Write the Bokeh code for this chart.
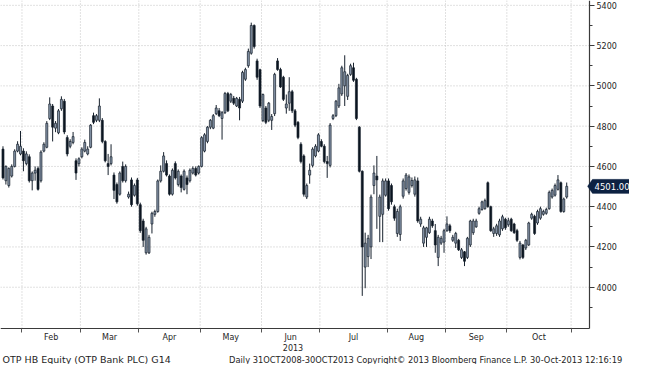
import numpy as np
from bokeh.plotting import figure
from bokeh.models import Range1d, FixedTicker, Label, PolyAnnotation, ColumnDataSource, LinearAxis
from bokeh.core.properties import value
from bokeh.embed import file_html
from bokeh.resources import INLINE

# ---------------- data ----------------
months = ["Feb", "Mar", "Apr", "May", "Jun", "Jul", "Aug", "Sep", "Oct"]
year_label = "2013"
# index of the first trading day of each month (Feb .. Nov)
month_starts = [7, 27, 47, 68, 89, 109, 132, 152, 173, 195]
price_ticks = [4000, 4200, 4400, 4600, 4800, 5000, 5200, 5400]
price_minor = [3900, 4100, 4300, 4500, 4700, 4900, 5100, 5300]
last_price = 4501.00

opens = [4686, 4529, 4505, 4552, 4600, 4676, 4662, 4676, 4614, 4648,
         4529, 4567, 4590, 4529, 4676, 4695, 4838, 4900, 4790, 4767,
         4886, 4924, 4743, 4700, 4719, 4628, 4614, 4648, 4676, 4662,
         4695, 4852, 4829, 4829, 4829, 4724, 4614, 4614, 4557, 4510,
         4462, 4600, 4529, 4448, 4533, 4457, 4533, 4410, 4329, 4171,
         4171, 4314, 4362, 4376, 4528, 4576, 4614, 4552, 4462, 4614,
         4510, 4552, 4486, 4543, 4529, 4567, 4590, 4567, 4600, 4676,
         4724, 4795, 4790, 4862, 4876, 4838, 4867, 4962, 4924, 4938,
         4900, 4933, 4924, 5033, 5100, 5162, 5300, 5124, 5080, 4828,
         4890, 4829, 4829, 4862, 5124, 5081, 5043, 4890, 4914, 4971,
         4876, 4819, 4710, 4652, 4448, 4557, 4605, 4652, 4676, 4724,
         4700, 4624, 4605, 4838, 4852, 4900, 4960, 5000, 4948, 5057,
         5090, 5033, 4795, 4576, 4100, 4152, 4200, 4505, 4552, 4352,
         4362, 4457, 4528, 4505, 4400, 4267, 4262, 4452, 4490, 4471,
         4505, 4462, 4528, 4314, 4219, 4248, 4271, 4329, 4281, 4148,
         4219, 4224, 4281, 4305, 4233, 4219, 4233, 4148, 4176, 4148,
         4210, 4271, 4300, 4367, 4386, 4390, 4519, 4400, 4267, 4267,
         4260, 4290, 4338, 4310, 4338, 4314, 4281, 4148, 4210, 4195,
         4210, 4343, 4352, 4319, 4343, 4362, 4367, 4390, 4448, 4457,
         4486, 4519, 4376, 4448]
highs = [4700, 4605, 4595, 4610, 4685, 4725, 4776, 4690, 4675, 4660,
         4575, 4600, 4600, 4680, 4720, 4825, 4943, 4910, 4825, 4885,
         4948, 4935, 4755, 4735, 4771, 4640, 4645, 4695, 4733, 4700,
         4810, 4867, 4860, 4938, 4840, 4730, 4662, 4710, 4570, 4520,
         4575, 4624, 4610, 4475, 4545, 4515, 4543, 4420, 4340, 4300,
         4260, 4375, 4385, 4535, 4605, 4671, 4630, 4560, 4590, 4625,
         4585, 4560, 4585, 4555, 4590, 4600, 4600, 4605, 4750, 4765,
         4800, 4835, 4860, 4905, 4890, 4875, 4970, 4970, 4965, 4950,
         4945, 4945, 5075, 5090, 5185, 5314, 5305, 5135, 5085, 4962,
         4900, 4920, 4860, 5065, 5138, 5090, 5050, 4957, 5043, 4980,
         4885, 4825, 4720, 4660, 4515, 4614, 4695, 4710, 4765, 4735,
         4710, 4652, 4815, 4860, 4930, 5010, 5100, 5152, 5060, 5110,
         5115, 5040, 4800, 4580, 4271, 4260, 4460, 4605, 4652, 4460,
         4540, 4540, 4540, 4515, 4410, 4390, 4410, 4540, 4567, 4560,
         4545, 4550, 4545, 4350, 4305, 4300, 4350, 4340, 4314, 4260,
         4255, 4290, 4352, 4315, 4260, 4275, 4240, 4195, 4180, 4250,
         4335, 4340, 4340, 4400, 4430, 4440, 4525, 4405, 4300, 4315,
         4340, 4360, 4345, 4345, 4345, 4320, 4290, 4230, 4215, 4240,
         4325, 4370, 4360, 4385, 4400, 4385, 4395, 4480, 4490, 4515,
         4557, 4525, 4445, 4520]
lows = [4535, 4510, 4495, 4545, 4595, 4670, 4655, 4576, 4605, 4520,
        4481, 4529, 4480, 4520, 4670, 4690, 4830, 4724, 4770, 4760,
        4876, 4760, 4650, 4690, 4710, 4533, 4600, 4640, 4670, 4655,
        4690, 4810, 4820, 4820, 4715, 4620, 4557, 4605, 4438, 4415,
        4455, 4520, 4520, 4440, 4400, 4450, 4405, 4270, 4200, 4162,
        4165, 4267, 4350, 4370, 4520, 4570, 4550, 4455, 4455, 4535,
        4500, 4471, 4480, 4462, 4520, 4560, 4550, 4560, 4595, 4670,
        4715, 4785, 4785, 4855, 4845, 4733, 4860, 4870, 4915, 4905,
        4895, 4829, 4915, 5025, 5090, 5155, 5185, 5030, 4890, 4820,
        4810, 4820, 4781, 4850, 5075, 4990, 4925, 4862, 4876, 4865,
        4795, 4735, 4615, 4450, 4438, 4514, 4595, 4645, 4670, 4695,
        4615, 4543, 4595, 4830, 4845, 4890, 4950, 4900, 4930, 5050,
        5020, 4830, 4570, 3957, 3995, 4100, 4140, 4462, 4290, 4224,
        4224, 4450, 4380, 4410, 4330, 4250, 4230, 4440, 4480, 4460,
        4495, 4450, 4320, 4300, 4200, 4200, 4265, 4295, 4171, 4105,
        4210, 4171, 4275, 4270, 4225, 4195, 4180, 4140, 4105, 4140,
        4200, 4260, 4295, 4360, 4380, 4385, 4395, 4275, 4250, 4255,
        4250, 4280, 4285, 4300, 4275, 4265, 4225, 4138, 4140, 4185,
        4205, 4335, 4260, 4310, 4335, 4355, 4360, 4385, 4440, 4450,
        4480, 4370, 4370, 4440]
closes = [4543, 4600, 4590, 4600, 4676, 4710, 4700, 4628, 4662, 4529,
          4567, 4581, 4486, 4671, 4710, 4814, 4910, 4795, 4814, 4876,
          4933, 4771, 4662, 4724, 4748, 4567, 4638, 4686, 4719, 4686,
          4805, 4819, 4852, 4900, 4724, 4628, 4600, 4648, 4481, 4424,
          4567, 4529, 4600, 4462, 4410, 4505, 4414, 4281, 4233, 4290,
          4248, 4367, 4376, 4528, 4576, 4652, 4557, 4462, 4581, 4543,
          4576, 4495, 4576, 4510, 4581, 4590, 4557, 4600, 4743, 4757,
          4795, 4829, 4852, 4890, 4852, 4867, 4962, 4876, 4957, 4914,
          4938, 4890, 5067, 5081, 5171, 5300, 5195, 5043, 4900, 4957,
          4819, 4914, 4848, 5057, 5081, 4995, 4933, 4910, 4971, 4876,
          4805, 4743, 4624, 4462, 4505, 4581, 4686, 4700, 4757, 4700,
          4624, 4614, 4805, 4852, 4924, 4990, 5090, 5070, 5052, 5100,
          5028, 4838, 4576, 4200, 4219, 4243, 4448, 4567, 4533, 4448,
          4528, 4528, 4390, 4424, 4343, 4376, 4400, 4528, 4557, 4548,
          4530, 4533, 4329, 4338, 4295, 4295, 4338, 4305, 4210, 4248,
          4243, 4281, 4314, 4281, 4248, 4267, 4186, 4186, 4129, 4243,
          4329, 4329, 4329, 4390, 4424, 4430, 4400, 4281, 4290, 4305,
          4329, 4350, 4295, 4330, 4281, 4271, 4233, 4219, 4148, 4233,
          4319, 4362, 4267, 4376, 4390, 4376, 4386, 4471, 4481, 4505,
          4533, 4376, 4438, 4501]

# ---------------- derived ----------------
o = np.array(opens, float)
h = np.array(highs, float)
l = np.array(lows, float)
c = np.array(closes, float)
idx = np.arange(len(c))
up = c >= o

UP_FILL = "#8796aa"
DN_FILL = "#0a1420"
EDGE = "#17212d"
AXIS = "#3a3a3a"
GRID = "#c2c2c2"
FONT = "DejaVu Sans"
TXT = "#1e1e1e"

src = ColumnDataSource(dict(
    x=idx, o=o, h=h, l=l, c=c,
    top=np.maximum(o, c), bottom=np.minimum(o, c),
    fill=[UP_FILL if u else DN_FILL for u in up],
))

bounds = [s - 0.5 for s in month_starts]
centers = [(bounds[k] + bounds[k + 1]) / 2 for k in range(len(months))]

# ---------------- layout: the frame fills the canvas, axes drawn at fixed locations
W, H = 629, 364
PLOT_W, PLOT_H = 589, 328          # pixel size of the price area
X0, X1 = -0.85, 200.8              # data x at the left / right edge of the price area
Y0, Y1 = 3795, 5424                # data y at the bottom / top of the price area
ux = (X1 - X0) / PLOT_W
uy = (Y1 - Y0) / PLOT_H
x_end = X0 + W * ux
y_start = Y0 - (H - PLOT_H) * uy

p = figure(width=W, height=H, output_backend="svg", toolbar_location=None,
           x_range=Range1d(X0, x_end), y_range=Range1d(y_start, Y1),
           x_axis_location=None, y_axis_location=None, min_border=0)
p.outline_line_color = None
p.background_fill_color = "white"
p.border_fill_color = "white"
p.xgrid.visible = False
p.ygrid.visible = False

# dotted grid (month boundaries and major price ticks)
p.segment(x0=bounds, y0=[Y0] * len(bounds), x1=bounds, y1=[Y1] * len(bounds),
          line_color=GRID, line_dash="1 2", line_width=1)
p.segment(x0=[X0] * len(price_ticks), y0=price_ticks, x1=[X1] * len(price_ticks),
          y1=price_ticks, line_color=GRID, line_dash="1 2", line_width=1)

# candles
p.segment(x0="x", y0="l", x1="x", y1="h", source=src, line_color=EDGE, line_width=1)
p.vbar(x="x", width=0.68, top="top", bottom="bottom", source=src,
       fill_color="fill", line_color=EDGE, line_width=0.7)

# right price axis
ya = LinearAxis(fixed_location=X1, bounds=(Y0, Y1),
                ticker=FixedTicker(ticks=price_ticks, minor_ticks=price_minor))
ya.axis_line_color = AXIS
ya.axis_line_width = 1.2
ya.major_tick_in = 0
ya.major_tick_out = 5
ya.minor_tick_in = 0
ya.minor_tick_out = 3
ya.major_tick_line_color = AXIS
ya.minor_tick_line_color = AXIS
ya.major_label_text_font = FONT
ya.major_label_text_font_size = "8px"
ya.major_label_text_color = TXT
ya.major_label_standoff = 2
p.add_layout(ya, "right")

# bottom month axis
xa = LinearAxis(fixed_location=Y0, bounds=(X0, X1),
                ticker=FixedTicker(ticks=centers, minor_ticks=bounds))
xa.major_label_overrides = {cc: m for cc, m in zip(centers, months)}
xa.major_tick_line_color = None
xa.major_tick_in = 0
xa.major_tick_out = 0
xa.minor_tick_in = 0
xa.minor_tick_out = 4
xa.minor_tick_line_color = "#555555"
xa.axis_line_color = AXIS
xa.axis_line_width = 1.2
xa.major_label_text_font = FONT
xa.major_label_text_font_size = "8px"
xa.major_label_text_color = TXT
xa.major_label_standoff = 0
p.add_layout(xa, "below")

# year under the month labels (centred under the price area, below "Jun")
p.text(x=[X0 + (PLOT_W / 2 - 2) * ux], y=[Y0 - 19 * uy], text=[year_label],
       text_font=value(FONT), text_font_size="8px", text_color=TXT,
       text_align="center", text_baseline="middle")

# last price tag
p.add_layout(PolyAnnotation(xs=[PLOT_W - 2, PLOT_W + 3, W, W, PLOT_W + 3],
                            ys=[last_price, last_price + 35, last_price + 35,
                                last_price - 35, last_price - 35],
                            xs_units="screen", ys_units="data",
                            fill_color="#0d2242", fill_alpha=1, line_color="#0d2242"))
p.add_layout(Label(x=PLOT_W + 5, y=last_price, x_units="screen", y_units="data",
                   text=f"{last_price:.2f}", text_color="white", text_font=FONT,
                   text_font_size="8.5px", text_baseline="middle"))

# footer
p.add_layout(Label(x=2, y=5, x_units="screen", y_units="screen",
                   text="OTP HB Equity (OTP Bank PLC) G14", text_font=FONT,
                   text_font_size="9.5px", text_color=TXT, text_baseline="middle"))
p.add_layout(Label(x=W - 2, y=5, x_units="screen", y_units="screen",
                   text="Daily 31OCT2008-30OCT2013  Copyright\u00a9 2013 Bloomberg Finance L.P.  30-Oct-2013 12:16:19",
                   text_font=FONT, text_font_size="8.3px", text_color=TXT,
                   text_baseline="middle", text_align="right"))

open("out.html", "w").write(file_html(p, INLINE))
